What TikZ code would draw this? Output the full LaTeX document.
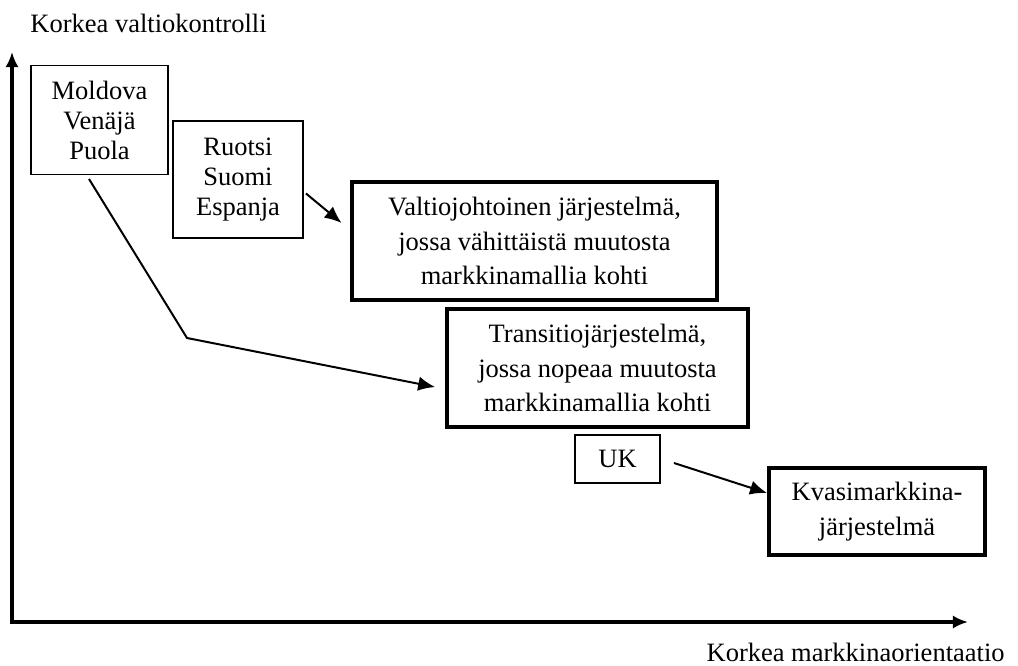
\documentclass[tikz,border=0pt]{standalone}
\usepackage{fontspec}
\setmainfont{Liberation Serif}
\usetikzlibrary{arrows.meta}
\usetikzlibrary{calc}
\newcommand{\pxu}{0.1592mm}
\tikzset{>={Latex[length=2.4mm,width=2.1mm]}}
\tikzset{
    thinbox/.style={draw,line width=0.9pt,align=center,inner sep=0pt,font=\fontsize{12}{13.6}\selectfont},
    thickbox/.style={draw,line width=1.8pt,align=center,inner sep=0pt,font=\fontsize{12}{15.8}\selectfont},
    akseliteksti/.style={inner sep=0pt,font=\fontsize{12}{13.8}\selectfont},
    yhteys/.style={-{Latex[length=2.7mm,width=2.3mm]},line width=0.9pt},
}
\begin{document}
\begin{tikzpicture}[x=\pxu,y=-\pxu]
	\useasboundingbox (0,0) rectangle (1018,665);
	\coordinate (origo) at (12,622);
	\coordinate (ykarki) at (12,52);
	\coordinate (xkarki) at (968,622);
	\draw[<->,line width=1.5pt] (ykarki) -- (origo) -- (xkarki);
	\node[akseliteksti,anchor=base west] (ykuvaus) at (30,33) {Korkea valtiokontrolli};
	\node[akseliteksti,anchor=base east] (xkuvaus) at (1005,661) {Korkea markkinaorientaatio};
	\node[thinbox,minimum width=137*\pxu,minimum height=109*\pxu] (moldova) at (99.5,120) {Moldova\\Venäjä\\Puola};
	\node[thinbox,minimum width=130*\pxu,minimum height=117*\pxu] (ruotsi) at (238,179.5) {Ruotsi\\Suomi\\Espanja};
	\node[thickbox,minimum width=365*\pxu,minimum height=118*\pxu] (valtio) at (534.5,241) {Valtiojohtoinen järjestelmä,\\jossa vähittäistä muutosta\\markkinamallia kohti};
	\node[thickbox,minimum width=301*\pxu,minimum height=118*\pxu] (transitio) at (597.5,368) {Transitiojärjestelmä,\\jossa nopeaa muutosta\\markkinamallia kohti};
	\node[thinbox,minimum width=85*\pxu,minimum height=48*\pxu] (uk) at (617.5,459) {UK};
	\node[thickbox,minimum width=216*\pxu,minimum height=87*\pxu] (kvasi) at (877,511.5) {Kvasimarkkina-\\järjestelmä};
	\coordinate (mutka) at (187,338);
	\draw[yhteys,shorten >=1.75mm] ($(ruotsi.east)+(2,14)$) -- ($(valtio.west)+(0,-11)$);
	\draw[yhteys,shorten >=1.6mm] ($(moldova.south)+(-10.5,3.5)$) -- (mutka) -- ($(transitio.west)+(0,21)$);
	\draw[yhteys] ($(uk.east)+(13,4)$) -- ($(kvasi.west)+(0,-18.5)$);
\end{tikzpicture}
\end{document}
